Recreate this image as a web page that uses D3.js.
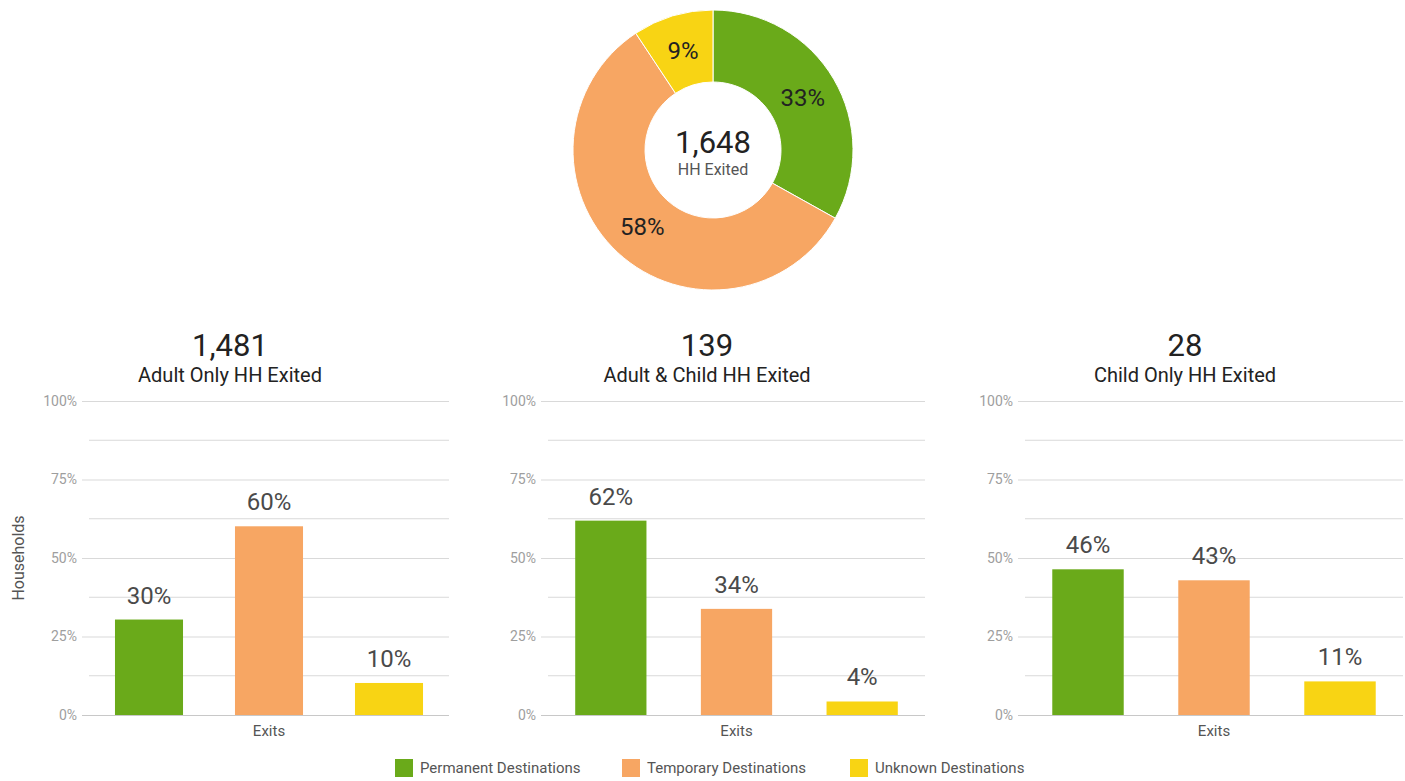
<!DOCTYPE html>
<html>
<head>
<meta charset="utf-8">
<script src="https://cdn.jsdelivr.net/npm/d3@7"></script>
<style>
  body { margin: 0; background: #fff; font-family: Roboto, "Open Sans", sans-serif; }
</style>
</head>
<body>
<script>
// chart data
const destinations = ['Permanent Destinations', 'Temporary Destinations', 'Unknown Destinations'];
const colors = ['#6aaa1a', '#f7a663', '#f8d414'];

const totalExited = 1648;
const totalShares = [33.1, 57.6, 9.3];

const panelTitles = ['Adult Only HH Exited', 'Adult & Child HH Exited', 'Child Only HH Exited'];
const panelTotals = [1481, 139, 28];
const adultOnly = [30.4, 60.1, 10.2];
const adultChild = [61.9, 33.8, 4.3];
const childOnly = [46.4, 42.9, 10.7];
const panelValues = [adultOnly, adultChild, childOnly];

const yTicks = [0, 25, 50, 75, 100];
const yMinor = [12.5, 37.5, 62.5, 87.5];

const W = 1405, H = 781;
const svg = d3.select('body').append('svg')
  .attr('width', W)
  .attr('height', H);

// donut
const cx = 713, cy = 150;
const pie = d3.pie().sort(null).value(d => d);
const arc = d3.arc().innerRadius(68).outerRadius(140);
const labelArc = d3.arc().innerRadius(104).outerRadius(104);

const donut = svg.append('g').attr('transform', `translate(${cx},${cy})`);
const arcs = pie(totalShares);
donut.selectAll('path')
  .data(arcs)
  .enter()
  .append('path')
  .attr('d', arc)
  .attr('fill', (d, i) => colors[i])
  .attr('stroke', '#fff')
  .attr('stroke-width', 1);

donut.selectAll('text.slice')
  .data(arcs)
  .enter()
  .append('text')
  .attr('class', 'slice')
  .attr('transform', d => `translate(${labelArc.centroid(d)})`)
  .attr('text-anchor', 'middle')
  .attr('dy', '0.35em')
  .style('font-size', '24px')
  .attr('fill', '#222')
  .text(d => Math.round(d.value) + '%');

donut.append('text')
  .attr('y', 3)
  .attr('text-anchor', 'middle')
  .style('font-size', '31px')
  .attr('fill', '#222')
  .text(d3.format(',')(totalExited));

donut.append('text')
  .attr('y', 25)
  .attr('text-anchor', 'middle')
  .style('font-size', '16px')
  .attr('fill', '#555')
  .text('HH Exited');

// bar panels
const panels = [
  { left: 89, right: 449, titleX: 230 },
  { left: 548, right: 925, titleX: 707 },
  { left: 1025, right: 1403, titleX: 1185 }
];
const plotTop = 401, plotBottom = 715;

const y = d3.scaleLinear().domain([0, 100]).range([plotBottom, plotTop]);

panels.forEach((p, k) => {
  const g = svg.append('g');
  const values = panelValues[k];

  const x = d3.scaleBand()
    .domain(destinations)
    .range([p.left, p.right])
    .paddingInner(0.433)
    .paddingOuter(0.2165);

  // minor gridlines
  g.selectAll('line.minor')
    .data(yMinor)
    .enter()
    .append('line')
    .attr('x1', p.left)
    .attr('x2', p.right)
    .attr('y1', d => y(d))
    .attr('y2', d => y(d))
    .attr('stroke', '#d9d9d9')
    .attr('stroke-width', 1);

  // major gridlines + tick labels
  const yAxis = d3.axisLeft(y)
    .tickValues(yTicks)
    .tickFormat(d => d + '%')
    .tickSize(-(p.right - p.left + 7))
    .tickPadding(5);

  const ax = g.append('g')
    .attr('transform', `translate(${p.left - 7},0)`)
    .call(yAxis);
  ax.select('.domain').remove();
  ax.selectAll('.tick line').attr('stroke', '#d9d9d9');
  ax.selectAll('.tick text')
    .attr('fill', '#9e9e9e')
    .style('font-size', '14px')
    .style('font-family', 'Roboto, sans-serif');
  ax.select('.tick:first-of-type line').attr('stroke', '#c8c8c8');

  // bars
  g.selectAll('rect')
    .data(values)
    .enter()
    .append('rect')
    .attr('x', (d, i) => x(destinations[i]))
    .attr('y', d => y(d))
    .attr('width', x.bandwidth())
    .attr('height', d => y(0) - y(d))
    .attr('fill', (d, i) => colors[i]);

  g.selectAll('text.val')
    .data(values)
    .enter()
    .append('text')
    .attr('class', 'val')
    .attr('x', (d, i) => x(destinations[i]) + x.bandwidth() / 2)
    .attr('y', d => y(d) - 16)
    .attr('text-anchor', 'middle')
    .style('font-size', '24px')
    .attr('fill', '#4a4a4a')
    .text(d => Math.round(d) + '%');

  // titles
  g.append('text')
    .attr('x', p.titleX)
    .attr('y', 356)
    .attr('text-anchor', 'middle')
    .style('font-size', '31px')
    .attr('fill', '#222')
    .text(d3.format(',')(panelTotals[k]));

  g.append('text')
    .attr('x', p.titleX)
    .attr('y', 382)
    .attr('text-anchor', 'middle')
    .style('font-size', '20px')
    .attr('fill', '#222')
    .text(panelTitles[k]);

  g.append('text')
    .attr('x', (p.left + p.right) / 2)
    .attr('y', 736)
    .attr('text-anchor', 'middle')
    .style('font-size', '15px')
    .attr('fill', '#555')
    .text('Exits');
});

svg.append('text')
  .attr('transform', `translate(24,${(plotTop + plotBottom) / 2}) rotate(-90)`)
  .attr('text-anchor', 'middle')
  .style('font-size', '16px')
  .attr('fill', '#555')
  .text('Households');

// legend
const legendX = [395, 622, 850];
const legend = svg.append('g').attr('class', 'legend');
destinations.forEach((name, i) => {
  legend.append('rect')
    .attr('x', legendX[i])
    .attr('y', 759)
    .attr('width', 18)
    .attr('height', 18)
    .attr('fill', colors[i]);
  legend.append('text')
    .attr('x', legendX[i] + 25)
    .attr('y', 773)
    .style('font-size', '15px')
    .attr('fill', '#555')
    .text(name);
});
</script>
</body>
</html>
